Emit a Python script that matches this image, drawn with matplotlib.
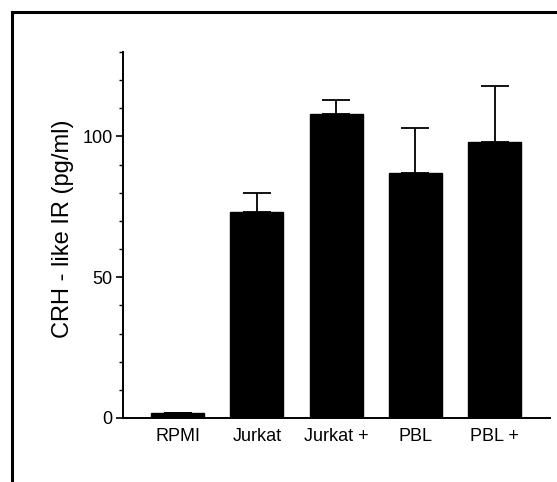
import matplotlib
matplotlib.use("Agg")
import matplotlib.pyplot as plt
from matplotlib.lines import Line2D
from matplotlib.ticker import MultipleLocator

categories = ["RPMI", "Jurkat", "Jurkat +", "PBL", "PBL +"]
values = [1.8, 73, 108, 87, 98]
errors_upper = [0, 7, 5, 16, 20]
major_ticks = [0, 50, 100]
ylabel = "CRH - like IR (pg/ml)"

plt.rcParams['font.family'] = ['Liberation Sans', 'DejaVu Sans']

fig = plt.figure(figsize=(5.57, 4.82), dpi=100)
ax = fig.add_axes([123/557, 1-418/482, (550-123)/557, (418-52)/482])

x = list(range(len(categories)))
ax.bar(x, values, width=0.67, color="black", edgecolor="black", zorder=2)
yerr = [[0]*len(values), errors_upper]
ax.errorbar(x, values, yerr=yerr, fmt="none", ecolor="black", elinewidth=1.3,
            capsize=10.4, capthick=1.3, zorder=1)

ax.set_xlim(-0.69, 4.70)
ax.set_ylim(0, 130)
ax.set_xticks(x)
ax.set_xticklabels(categories, fontsize=13)
ax.set_yticks(major_ticks)
ax.set_yticklabels([str(t) for t in major_ticks], fontsize=13)
ax.yaxis.set_minor_locator(MultipleLocator(10))
ax.tick_params(axis="x", length=0, pad=7)
ax.tick_params(axis="y", which="major", length=5, width=1.2, direction="out", pad=2.5)
ax.tick_params(axis="y", which="minor", length=3, width=1.0, direction="out")
for s in ["top", "right"]:
    ax.spines[s].set_visible(False)
for s in ["left", "bottom"]:
    ax.spines[s].set_linewidth(1.4)

fig.text(63/557, 1-229/482, ylabel, rotation=90, fontsize=17, ha="center", va="center")

# outer frame (left and top visible)
fig.add_artist(Line2D([12/557, 12/557], [0, 1-12/482], transform=fig.transFigure,
                      color="black", lw=2.2))
fig.add_artist(Line2D([12/557, 1], [1-12/482, 1-12/482], transform=fig.transFigure,
                      color="black", lw=2.2))

fig.savefig("out.png", dpi=100)
